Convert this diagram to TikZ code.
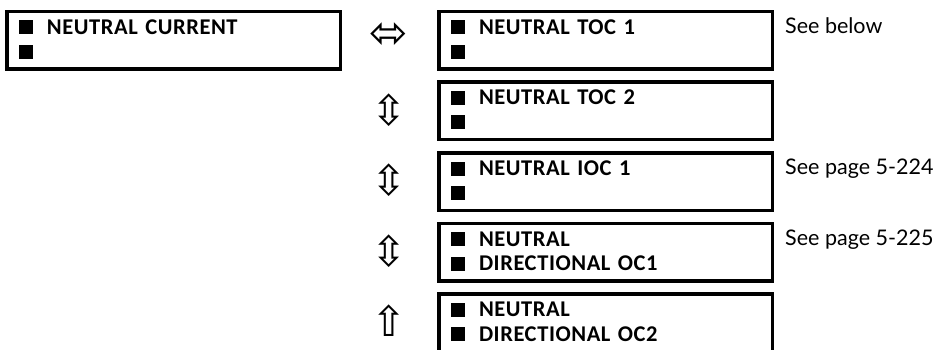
\documentclass[tikz,border=0pt]{standalone}
\usepackage{fontspec}
\setmainfont{Carlito}[LetterSpace=2.5]
\newfontfamily\seefont{Lato}
\newfontfamily\symfont{DejaVu Sans}
\usetikzlibrary{positioning,calc}
\newcommand{\blt}{\rule{14pt}{14pt}\hspace{14pt}}

\begin{document}
\begin{tikzpicture}[
    x=1pt, y=-1pt,
    menubox/.style={draw, line width=3.5pt, minimum width=333.5pt, minimum height=57.5pt,
      text width=309pt, inner xsep=12.25pt, align=left, text height=14pt, text depth=26pt,
      font=\fontsize{22.5}{24.5}\selectfont\bfseries},
    nav/.style={font=\symfont\fontsize{42}{42}\selectfont, inner sep=0pt},
    ref/.style={font=\seefont\fontsize{21.5}{24}\selectfont, anchor=base west, inner sep=0pt},
    node distance=9.5pt
  ]
    \useasboundingbox (0,0) rectangle (934,350);

    \node[menubox, anchor=north west] (ncur) at (5,10) {\blt NEUTRAL CURRENT\\ \blt};

    \node[menubox, anchor=north west] (ntoc1) at (437,10) {\blt NEUTRAL TOC 1\\ \blt};
    \node[menubox, below=of ntoc1] (ntoc2) {\blt NEUTRAL TOC 2\\ \blt};
    \node[menubox, below=of ntoc2] (nioc1) {\blt NEUTRAL IOC 1\\ \blt};
    \node[menubox, below=of nioc1] (ndoc1) {\blt NEUTRAL\\ \blt DIRECTIONAL OC1};
    \node[menubox, below=of ndoc1] (ndoc2) {\blt NEUTRAL\\ \blt DIRECTIONAL OC2};

    \node[nav, font=\symfont\fontsize{46}{46}\selectfont] (nv1) at ([xshift=-48pt, yshift=5pt]ntoc1.west) {⬄};
    \node[nav] (nv2) at ([xshift=-48pt, yshift=1pt]ntoc2.west) {⇳};
    \node[nav] (nv3) at ([xshift=-48pt, yshift=1pt]nioc1.west) {⇳};
    \node[nav] (nv4) at ([xshift=-48pt, yshift=1pt]ndoc1.west) {⇳};
    \node[nav] (nv5) at ([xshift=-48pt, yshift=2pt]ndoc2.west) {⇧};

    \node[ref] (rtoc1) at ($(ntoc1.north east)+(11pt,-23.5pt)$) {See below};
    \node[ref] (rioc1) at ($(nioc1.north east)+(11pt,-23.5pt)$) {See page 5-224};
    \node[ref] (rdoc1) at ($(ndoc1.north east)+(11pt,-23.5pt)$) {See page 5-225};
  \end{tikzpicture}
\end{document}
